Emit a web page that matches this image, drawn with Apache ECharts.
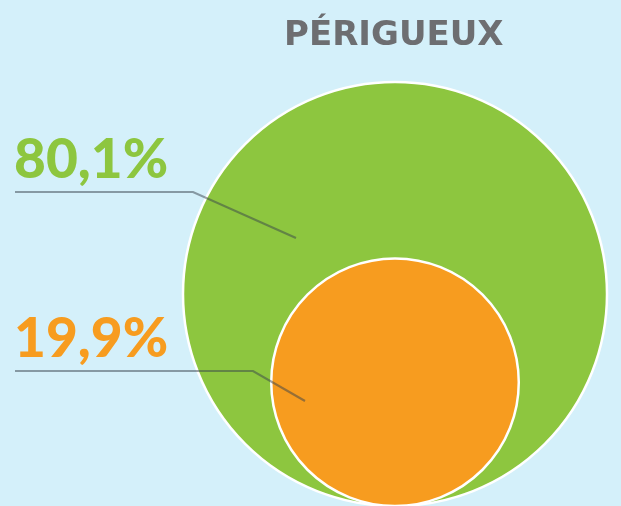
<!DOCTYPE html>
<html>
<head>
<meta charset="utf-8">
<script src="https://cdn.jsdelivr.net/npm/echarts@6/dist/echarts.min.js"></script>
<style>
  html, body { margin: 0; padding: 0; background: #d4f0fa; }
  #main { width: 621px; height: 506px; }
</style>
</head>
<body>
<div id="main"></div>
<script>
// données
const city = 'PÉRIGUEUX'
const names = ['Total', 'Part']
const values = [80.1, 19.9]
const labels = ['80,1%', '19,9%']
const colors = ['#8dc63f', '#f79c1f']

const total = values[0] + values[1]
// rayon ~ racine cubique de la part (cercle extérieur = total)
const radii = [1, Math.cbrt(values[1] / total)]

let myChart = echarts.init(document.getElementById('main'))

const options = {
    backgroundColor: '#d4f0fa',
    animation: false,
    title: {
        text: city,
        left: 279,
        top: 14,
        textStyle: {
            color: '#6d6e71',
            fontFamily: 'DejaVu Sans',
            fontWeight: 'bold',
            fontSize: 34
        }
    },
    grid: { left: 183, top: 82, width: 424, height: 424 },
    xAxis: { type: 'value', min: -1, max: 1, show: false },
    yAxis: { type: 'value', min: 0, max: 2, show: false },
    graphic: [
        {
            type: 'polyline', z: 10,
            shape: { points: [[15, 192], [193, 192], [296, 238]] },
            style: { fill: null, stroke: 'rgba(55,65,75,0.5)', lineWidth: 2.2 }
        },
        {
            type: 'polyline', z: 10,
            shape: { points: [[15, 371], [253, 371], [305, 401]] },
            style: { fill: null, stroke: 'rgba(55,65,75,0.5)', lineWidth: 2.2 }
        },
        {
            type: 'text', left: 14, top: 133, z: 10,
            style: { text: labels[0], fill: colors[0], font: '900 55px Lato' }
        },
        {
            type: 'text', left: 14, top: 312, z: 10,
            style: { text: labels[1], fill: colors[1], font: '900 55px Lato' }
        }
    ],
    series: [{
        type: 'custom',
        data: values.map((v, i) => ({ name: names[i], value: [0, radii[i], radii[i]] })),
        renderItem: (params, api) => {
            const r = api.value(2)
            const c = api.coord([api.value(0), api.value(1)])
            const rp = api.size([r, 0])[0]
            return {
                type: 'circle',
                shape: { cx: c[0], cy: c[1], r: rp },
                style: { fill: colors[params.dataIndex], stroke: '#ffffff', lineWidth: 2.5 }
            }
        }
    }]
}
myChart.setOption(options)
</script>
</body>
</html>
